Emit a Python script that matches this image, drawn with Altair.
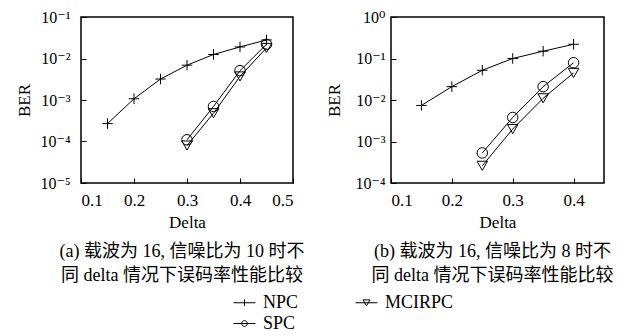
import altair as alt
import pandas as pd

# ---------------- data ----------------
series_names = ["NPC", "SPC", "MCIRPC"]

delta_a_npc = [0.15, 0.20, 0.25, 0.30, 0.35, 0.40, 0.45]
npc_a = [2.7e-4, 1.07e-3, 3.2e-3, 6.9e-3, 1.25e-2, 1.9e-2, 2.8e-2]
delta_a_other = [0.30, 0.35, 0.40, 0.45]
spc_a = [1.1e-4, 7.0e-4, 5.1e-3, 2.2e-2]
mcirpc_a = [8.0e-5, 4.8e-4, 3.7e-3, 1.8e-2]

delta_b_npc = [0.15, 0.20, 0.25, 0.30, 0.35, 0.40]
npc_b = [7.4e-3, 2.1e-2, 5.2e-2, 1.0e-1, 1.5e-1, 2.2e-1]
delta_b_other = [0.25, 0.30, 0.35, 0.40]
spc_b = [5.3e-4, 3.8e-3, 2.1e-2, 7.9e-2]
mcirpc_b = [2.6e-4, 2.0e-3, 1.1e-2, 4.5e-2]

x_ticks_a = [0.1, 0.2, 0.3, 0.4, 0.5]
x_ticks_b = [0.1, 0.2, 0.3, 0.4]
y_ticks_a = [1e-5, 1e-4, 1e-3, 1e-2, 1e-1]
y_labels_a = ["10⁻⁵", "10⁻⁴", "10⁻³", "10⁻²", "10⁻¹"]
y_ticks_b = [1e-4, 1e-3, 1e-2, 1e-1, 1.0]
y_labels_b = ["10⁻⁴", "10⁻³", "10⁻²", "10⁻¹", "10⁰"]

caption_a = ["(a) 载波为 16, 信噪比为 10 时不", "同 delta 情况下误码率性能比较"]
caption_b = ["(b) 载波为 16, 信噪比为 8 时不", "同 delta 情况下误码率性能比较"]
x_title = "Delta"
y_title = "BER"

FONT = "Liberation Serif, DejaVu Serif, Noto Sans CJK SC"

# marker shapes (unit square paths)
PLUS = "M-1,0L1,0M0,-1L0,1"
LEG_NPC = "M-1,0L1,0M0,-0.3L0,0.3"
LEG_SPC = "M-1,0L1,0M-0.26,0A0.26,0.26 0 1,0 0.26,0A0.26,0.26 0 1,0 -0.26,0"
LEG_MCI = "M-1,0L1,0M-0.32,-0.26L0.32,-0.26L0,0.28Z"


def make_df(d_npc, npc, d_other, spc, mci):
    rows = []
    for d, v in zip(d_npc, npc):
        rows.append({"delta": d, "ber": v, "series": series_names[0]})
    for d, v in zip(d_other, spc):
        rows.append({"delta": d, "ber": v, "series": series_names[1]})
    for d, v in zip(d_other, mci):
        rows.append({"delta": d, "ber": v, "series": series_names[2]})
    return pd.DataFrame(rows)


def label_expr(ticks, labels):
    expr = f"'{labels[-1]}'"
    for i in range(len(ticks) - 2, -1, -1):
        expr = f"datum.value < {ticks[i] * 3.1623:.6g} ? '{labels[i]}' : ({expr})"
    return expr


df_a = make_df(delta_a_npc, npc_a, delta_a_other, spc_a, mcirpc_a)
df_b = make_df(delta_b_npc, npc_b, delta_b_other, spc_b, mcirpc_b)


def panel(df, xdom, xticks, ydom, yticks, ylabels, caption, width, lab_pad, tit_pad,
          with_legend):
    x = alt.X("delta:Q", scale=alt.Scale(domain=xdom, nice=False, zero=False),
              axis=alt.Axis(values=xticks, format=".1f", title=x_title,
                            offset=-5, labelPadding=9, titlePadding=6,
                            titleFontWeight="normal"))
    y = alt.Y("ber:Q", scale=alt.Scale(type="log", domain=ydom, nice=False),
              axis=alt.Axis(values=yticks, labelExpr=label_expr(yticks, ylabels),
                            title=y_title, offset=-5, labelPadding=lab_pad,
                            titlePadding=tit_pad, titleFontWeight="normal",
                            labelFontSize=16))
    base = alt.Chart(df)
    line = base.mark_line(color="black", strokeWidth=1).encode(
        x=x, y=y, detail="series:N")
    pts = []
    for name, shp in zip(series_names, [PLUS, "circle", "triangle-down"]):
        pts.append(
            base.transform_filter(alt.datum.series == name)
            .mark_point(shape=shp, filled=False, color="black", strokeWidth=1,
                        size=110, opacity=1)
            .encode(x=x, y=y)
        )
    layers = [line] + pts
    if with_legend:
        leg = base.mark_point(opacity=0, filled=False, color="black").encode(
            x=x, y=y,
            shape=alt.Shape(
                "series:N",
                scale=alt.Scale(domain=series_names,
                                range=[LEG_NPC, LEG_SPC, LEG_MCI]),
                legend=alt.Legend(
                    title=None, orient="none", legendX=152, legendY=274,
                    columns=2, columnPadding=54, rowPadding=0,
                    symbolSize=484, symbolStrokeWidth=1, symbolOpacity=1,
                    symbolStrokeColor="black", symbolFillColor="transparent",
                    labelFont=FONT, labelFontSize=18, labelOffset=7,
                    labelColor="black", padding=0,
                ),
            ),
        )
        layers.append(leg)
    return alt.layer(*layers).properties(
        width=width, height=166,
        title=alt.TitleParams(caption, orient="bottom", anchor="middle",
                              frame="group", dx=-5, offset=13, font=FONT,
                              fontSize=18, fontWeight="normal", lineHeight=24,
                              color="black"),
    )


left = panel(df_a, [0.1, 0.5], x_ticks_a, [1e-5, 1e-1], y_ticks_a, y_labels_a,
             caption_a, 212, 11, 6, True)
right = panel(df_b, [0.1, 0.45], x_ticks_b, [1e-4, 1.0], y_ticks_b, y_labels_b,
              caption_b, 213, 6, 11, False)

chart = (
    alt.hconcat(left, right, spacing=19)
    .properties(padding={"left": 7, "top": 0, "right": 0, "bottom": 0})
    .configure_view(stroke="black", strokeWidth=1.5)
    .configure_axis(domain=False, grid=False, ticks=True, tickSize=5,
                    tickColor="black", tickWidth=1, labelColor="black",
                    titleColor="black", labelFont=FONT, titleFont=FONT,
                    labelFontSize=17, titleFontSize=17, titleFontWeight="normal")
    .configure_axisX(labelAngle=0)
)

chart.save("out.html", embed_options={"renderer": "svg", "actions": False})
